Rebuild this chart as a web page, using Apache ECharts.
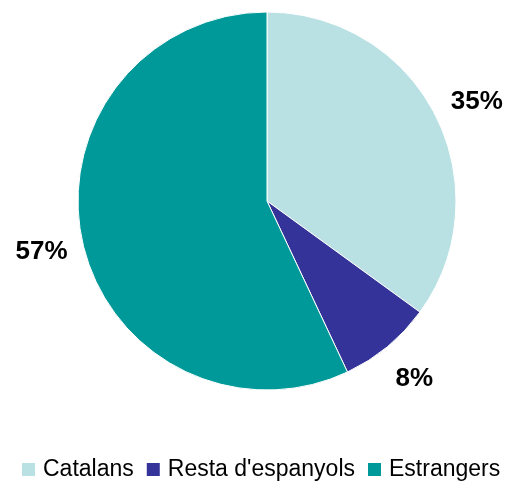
<!DOCTYPE html>
<html>
<head>
<meta charset="utf-8">
<script src="https://cdn.jsdelivr.net/npm/echarts@6/dist/echarts.min.js"></script>
<style>
  html, body { margin: 0; padding: 0; background: #fff; }
  #chart { width: 508px; height: 482px; }
</style>
</head>
<body>
<div id="chart"></div>
<script>
const categories = ['Catalans', "Resta d'espanyols", 'Estrangers']
const shares = [35, 8, 57]
const colors = ['#b9e0e3', '#333399', '#009999']

const chart = echarts.init(document.getElementById('chart'))

const slices = categories.map((name, i) => ({
  name,
  value: shares[i],
  itemStyle: { color: colors[i] },
}))

// the 35% label sits a bit lower than the slice middle in the original
const labelNudge = [[4, 6], [0, 0], [0, 0]]

chart.setOption({
  animation: false,
  legend: {
    data: categories,
    top: 458,
    left: 20,
    width: 488,
    padding: 0,
    icon: 'rect',
    itemWidth: 15,
    itemHeight: 15,
    itemGap: 11,
    textStyle: {
      fontFamily: 'Liberation Sans, Arial, sans-serif',
      fontSize: 23,
      color: '#000',
      padding: [0, 0, 0, 2],
    },
  },
  series: [
    {
      name: 'share',
      type: 'pie',
      center: [267, 201],
      radius: 189,
      startAngle: 90,
      clockwise: true,
      silent: true,
      itemStyle: { borderColor: '#fff', borderWidth: 1 },
      label: { show: false },
      labelLine: { show: false },
      data: slices,
    },
    {
      // invisible ring only used to place the percentage labels outside the pie
      name: 'labels',
      type: 'pie',
      center: [267, 201],
      radius: [208, 248],
      startAngle: 90,
      clockwise: true,
      silent: true,
      itemStyle: { color: 'rgba(0,0,0,0)' },
      label: {
        show: true,
        position: 'inside',
        formatter: '{c}%',
        fontFamily: 'Liberation Sans, Arial, sans-serif',
        fontSize: 26,
        fontWeight: 'bold',
        color: '#000',
      },
      labelLine: { show: false },
      data: categories.map((name, i) => ({
        name,
        value: shares[i],
        label: { offset: labelNudge[i] },
      })),
    },
  ],
})

window.addEventListener('resize', () => chart.resize())
</script>
</body>
</html>
